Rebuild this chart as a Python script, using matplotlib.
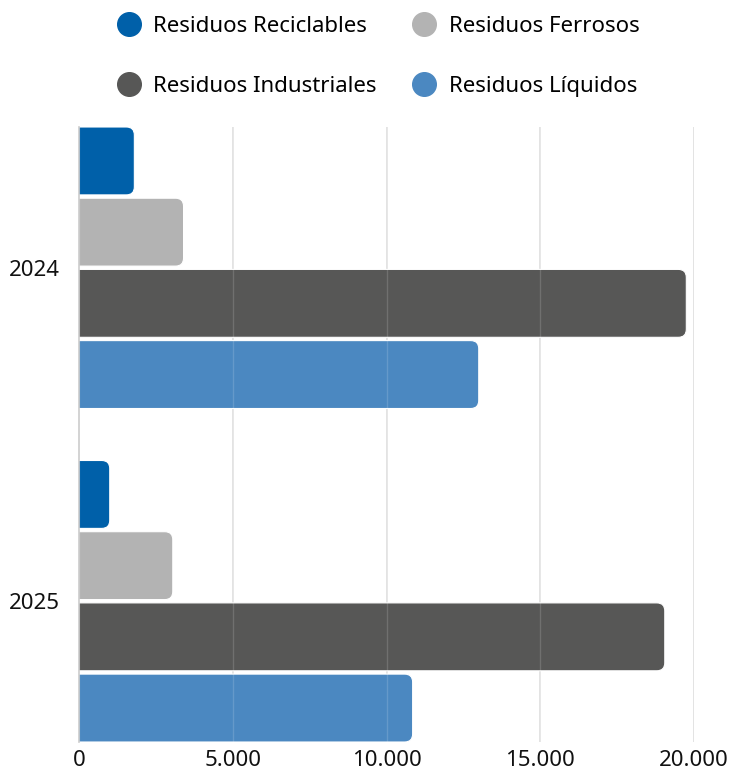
import matplotlib.pyplot as plt
import numpy as np
from matplotlib.lines import Line2D
from matplotlib.patches import FancyBboxPatch
from matplotlib.ticker import FuncFormatter

plt.rcParams['font.family'] = ['Noto Sans', 'DejaVu Sans']

# datos
years = ['2024', '2025']
series = ['Residuos Reciclables', 'Residuos Ferrosos', 'Residuos Industriales', 'Residuos Líquidos']
colors = ['#0060a9', '#b3b3b3', '#575756', '#4b88c1']
reciclables = [1800, 1000]
ferrosos = [3400, 3050]
industriales = [19750, 19050]
liquidos = [13000, 10850]
values = [reciclables, ferrosos, industriales, liquidos]
xticks = [0, 5000, 10000, 15000, 20000]

fig = plt.figure(figsize=(7.34, 7.76), dpi=100)
ax = fig.add_axes([79 / 734, 34 / 776, 615 / 734, 615 / 776])

pitch = 0.2135
h = 0.2036
y = np.arange(len(years))

# radio de las esquinas (px -> unidades de datos)
r_px = 8
px_x = 615 / 20000
px_y = 333.5
rx = r_px / px_x
ry = r_px / px_y

for j, (name, vals, c) in enumerate(zip(series, values, colors)):
    bars = ax.barh(y + (j - 1.5) * pitch, vals, height=h, color=c, label=name)
    for b in bars:
        b.set_visible(False)
        x0, y0 = b.get_x(), b.get_y()
        w, hh = b.get_width(), b.get_height()
        p = FancyBboxPatch((x0 - rx * 2, y0), w + rx * 2, hh,
                           boxstyle=f"round,pad=0,rounding_size={rx}",
                           mutation_aspect=ry / rx,
                           facecolor=c, edgecolor='white', linewidth=0.8,
                           zorder=2)
        ax.add_patch(p)

ax.set_xlim(0, 20000)
ax.set_ylim(1 + 1.5 * pitch + h / 2, -1.5 * pitch - h / 2)
ax.set_yticks(y)
ax.set_yticklabels(years)
ax.set_xticks(xticks)
ax.xaxis.set_major_formatter(FuncFormatter(lambda v, p: f"{v:,.0f}".replace(",", ".")))
ax.tick_params(axis='both', length=0, labelsize=16, colors='#111111')
ax.tick_params(axis='x', pad=6)
ax.tick_params(axis='y', pad=14)

for s in ['top', 'right', 'bottom']:
    ax.spines[s].set_visible(False)
ax.spines['left'].set_color('#cccccc')
ax.spines['left'].set_linewidth(1.2)
ax.spines['left'].set_zorder(3)

# rejilla: detrás de las barras y un trazo muy tenue encima
for xv in xticks[1:]:
    ax.axvline(xv, color='#e3e3e3', linewidth=1.4, zorder=1)
ax.grid(axis='x', color='#ffffff', linewidth=1.0, alpha=0.15, zorder=3)
ax.set_axisbelow(False)
ax.grid(axis='y', visible=False)

# leyenda
order = [0, 2, 1, 3]
handles = [Line2D([], [], marker='o', linestyle='', markersize=17,
                  markerfacecolor=colors[i], markeredgecolor=colors[i]) for i in order]
labels = [series[i] for i in order]
fig.legend(handles, labels, ncol=2, loc='upper center', bbox_to_anchor=(0.515, 1.005),
           frameon=False, fontsize=16, labelspacing=1.75, columnspacing=1.6,
           handletextpad=0.55, handlelength=1.1)

plt.savefig('out.png', dpi=100)
